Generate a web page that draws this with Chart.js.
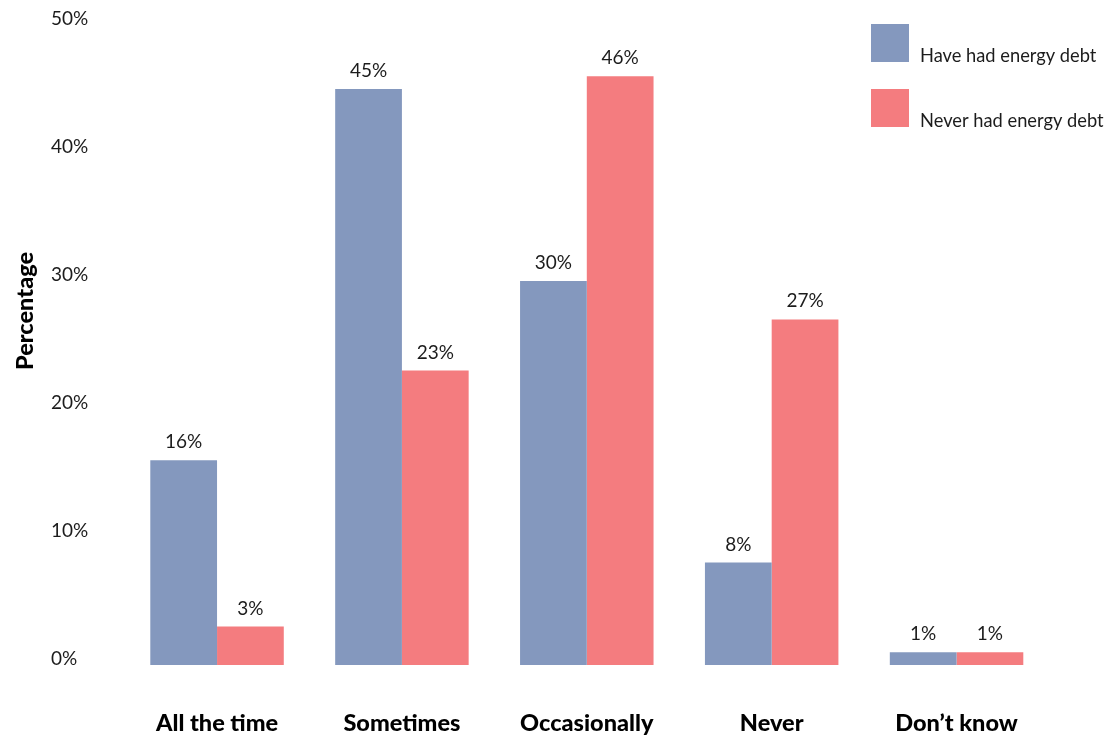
<!DOCTYPE html>
<html>
<head>
<meta charset="utf-8">
<title>Energy debt</title>
<script src="https://cdn.jsdelivr.net/npm/chart.js@4.4.1/dist/chart.umd.min.js"></script>
<style>
  html, body { margin: 0; padding: 0; background: #fff; }
  canvas { display: block; }
</style>
</head>
<body>
<canvas id="g-energia" width="1106" height="735"></canvas>
<script>
const categorias = ['All the time', 'Sometimes', 'Occasionally', 'Never', 'Don\u2019t know'];
const seriesNames = ['Have had energy debt', 'Never had energy debt'];
const haveHad = [16, 45, 30, 8, 1];
const neverHad = [3, 23, 46, 27, 1];
const yTicks = [0, 10, 20, 30, 40, 50];

const azul = '#8498be';
const rojo = '#f47c7f';
const texto = '#1c1c1c';

// etiquetas de valor encima de cada barra
const valueLabels = {
    id: 'valueLabels',
    afterDatasetsDraw(chart) {
        const ctx = chart.ctx;
        ctx.save();
        ctx.font = '19px Lato';
        ctx.fillStyle = texto;
        ctx.textAlign = 'center';
        ctx.textBaseline = 'alphabetic';
        chart.data.datasets.forEach((ds, i) => {
            chart.getDatasetMeta(i).data.forEach((bar, j) => {
                ctx.fillText(ds.data[j] + '%', bar.x, bar.y - 12);
            });
        });
        ctx.restore();
    }
};

// leyenda en la esquina superior derecha, texto alineado al pie del cuadro
const cornerLegend = {
    id: 'cornerLegend',
    afterDraw(chart) {
        const ctx = chart.ctx;
        ctx.save();
        ctx.font = '18.3px Lato';
        ctx.textBaseline = 'alphabetic';
        ctx.textAlign = 'left';
        chart.data.datasets.forEach((ds, i) => {
            const top = 24 + i * 65;
            ctx.fillStyle = ds.backgroundColor;
            ctx.fillRect(871, top, 38, 38);
            ctx.fillStyle = texto;
            ctx.fillText(ds.label, 920, top + 38);
        });
        ctx.restore();
    }
};

// titulo del eje y, girado
const yTitle = {
    id: 'yTitle',
    afterDraw(chart) {
        const ctx = chart.ctx;
        const t = chart.options.scales.y.title;
        ctx.save();
        ctx.translate(25, 311);
        ctx.rotate(-Math.PI / 2);
        ctx.font = '900 23.5px Lato';
        ctx.fillStyle = '#000';
        ctx.textAlign = 'center';
        ctx.textBaseline = 'middle';
        ctx.fillText(t.text, 0, 0);
        ctx.restore();
    }
};

function load() {
    const ctx = document.getElementById('g-energia').getContext('2d');
    const config = {
        type: 'bar',
        data: {
            labels: categorias,
            datasets: [
                { label: seriesNames[0], data: haveHad, backgroundColor: azul },
                { label: seriesNames[1], data: neverHad, backgroundColor: rojo }
            ]
        },
        options: {
            responsive: false,
            animation: false,
            devicePixelRatio: 1,
            layout: { padding: { left: 51, right: 57, top: 25, bottom: 0 } },
            datasets: { bar: { categoryPercentage: 0.722, barPercentage: 1 } },
            plugins: {
                legend: { display: false },
                tooltip: { enabled: false }
            },
            scales: {
                x: {
                    afterFit(scale) { scale.height = 70; },
                    grid: { display: false, drawTicks: false },
                    border: { display: false },
                    ticks: {
                        color: '#000',
                        font: { family: 'Lato', size: 23.5, weight: 900 },
                        padding: 44
                    }
                },
                y: {
                    min: 0,
                    max: 50,
                    afterFit(scale) { scale.width = 73.6; },
                    afterBuildTicks(scale) { scale.ticks = yTicks.map(v => ({ value: v })); },
                    title: { display: false, text: 'Percentage' },
                    grid: { display: false, drawTicks: false },
                    border: { display: false },
                    ticks: {
                        color: texto,
                        font: { family: 'Lato', size: 19 },
                        crossAlign: 'far',
                        labelOffset: -6,
                        callback: v => v + '%'
                    }
                }
            }
        },
        plugins: [valueLabels, cornerLegend, yTitle]
    };
    new Chart(ctx, config);
}

document.addEventListener('DOMContentLoaded', load);
</script>
</body>
</html>
